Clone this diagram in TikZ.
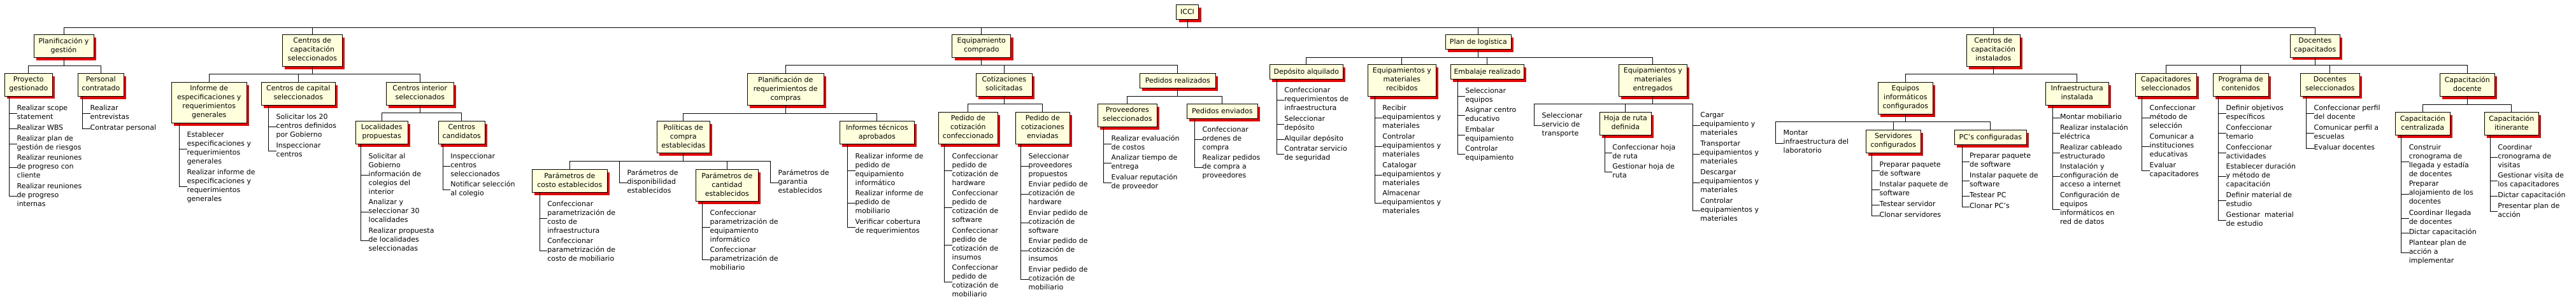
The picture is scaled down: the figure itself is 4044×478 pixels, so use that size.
\documentclass[tikz,border=0pt]{standalone}
\usepackage{fontspec}
\setmainfont{DejaVu Sans}
\usetikzlibrary{shadows}

\definecolor{wbsfill}{RGB}{255,255,221}
\definecolor{wbsred}{RGB}{226,8,8}

% work package list: prefix, top of the list line, items y/text
\newcommand{\wbstasks}[3]{%
  \coordinate (#1-l) at #2;
  \foreach \iy/\itxt [count=\nk] in {#3} {
    \node[task] (#1-\nk) at ([xshift=11.8pt]#1-l |- 0,\iy) {\itxt};
    \draw[link] (#1-l) |- (#1-\nk.west);
  }}

\begin{document}
\begin{tikzpicture}[
  x=1pt, y=-1pt,
  font=\fontsize{11}{14}\selectfont,
  wbsbox/.style={draw, line width=0.9pt, fill=wbsfill, anchor=north, align=center,
    inner xsep=3pt, inner ysep=4.5pt, minimum width=#1,
    general shadow={fill=wbsred, shadow xshift=4pt, shadow yshift=-4.5pt},
    execute at begin node=\strut, execute at end node=\strut},
  wbsbox/.default=80pt,
  task/.style={anchor=west, align=left, inner sep=0pt,
    execute at begin node=\strut, execute at end node=\strut},
  link/.style={line width=0.9pt}
]
\useasboundingbox (0,0) rectangle (4044,478);

\node[wbsbox=35pt] (icci) at (1864,7.3) {ICCI};

% level 1
\node[wbsbox=94pt] (pg) at (100,54.3) {Planificación y\\gestión};
\node[wbsbox=94pt] (csel) at (490.3,54.3) {Centros de\\capacitación\\seleccionados};
\node[wbsbox=92pt] (eqc) at (1540.8,54.3) {Equipamiento\\comprado};
\node[wbsbox=103pt] (plog) at (2320.8,54.3) {Plan de logística};
\node[wbsbox=84pt] (cins) at (3129.3,54.3) {Centros de\\capacitación\\instalados};
\node[wbsbox=78pt] (dcap) at (3634.3,54.3) {Docentes\\capacitados};

\foreach \n in {pg,csel,eqc,plog,cins,dcap}
  \draw[link] (icci.south) -- ++(0,12) -| (\n.north);

% planificacion y gestion
\node[wbsbox=75pt] (proy) at (44.8,115.3) {Proyecto\\gestionado};
\node[wbsbox=72pt] (pers) at (158.3,115.3) {Personal\\contratado};

% centros de capacitacion seleccionados
\node[wbsbox=118pt] (infg) at (328.3,129.3) {Informe de\\especificaciones y\\requerimientos\\generales};
\node[wbsbox=116pt] (ccap) at (468.3,129.3) {Centros de capital\\seleccionados};
\node[wbsbox=106pt] (cint) at (659.3,129.3) {Centros interior\\seleccionados};
\node[wbsbox=82pt] (loc) at (599.2,190.3) {Localidades\\propuestas};
\node[wbsbox=73pt] (ccand) at (724.8,190.3) {Centros\\candidatos};

% equipamiento comprado
\node[wbsbox=120pt] (preq) at (1233.3,115.3) {Planificación de\\requerimientos de\\compras};
\node[wbsbox=88pt] (cot) at (1576.3,115.3) {Cotizaciones\\solicitadas};
\node[wbsbox=119pt] (pedr) at (1848.8,115.3) {Pedidos realizados};
\node[wbsbox=83pt] (pol) at (1072.8,190.3) {Políticas de\\compra\\establecidas};
\node[wbsbox=117pt] (inft) at (1376.8,190.3) {Informes técnicos\\aprobados};
\node[wbsbox=118pt] (pcos) at (894.3,266.3) {Parámetros de\\costo establecidos};
\node[wbsbox=98pt] (pcan) at (1141.3,266.3) {Parámetros de\\cantidad\\establecidos};
\node[task] (pdis) at (984.5,287) {Parámetros de\\disponibilidad\\establecidos};
\node[task] (pgar) at (1221.5,287) {Parámetros de\\garantia\\establecidos};
\node[wbsbox=93pt] (pcc) at (1519.8,176.3) {Pedido de\\cotización\\confeccionado};
\node[wbsbox=85pt] (pce) at (1636.8,176.3) {Pedido de\\cotizaciones\\enviadas};
\node[wbsbox=93pt] (prov) at (1769.8,163.3) {Proveedores\\seleccionados};
\node[wbsbox=111pt] (penv) at (1918.8,163.3) {Pedidos enviados};

% plan de logistica
\node[wbsbox=115pt] (dep) at (2050.8,101.3) {Depósito alquilado};
\node[wbsbox=107pt] (emr) at (2200.8,101.3) {Equipamientos y\\materiales\\recibidos};
\node[wbsbox=115pt] (emb) at (2334.8,101.3) {Embalaje realizado};
\node[wbsbox=107pt] (eme) at (2594.8,101.3) {Equipamientos y\\materiales\\entregados};
\node[task] (sst) at (2420.5,197) {Seleccionar\\servicio de\\transporte};
\node[wbsbox=81pt] (hoja) at (2551.8,176.3) {Hoja de ruta\\definida};

% centros de capacitacion instalados
\node[wbsbox=86pt] (eqi) at (2991.3,129.3) {Equipos\\informáticos\\configurados};
\node[wbsbox=99pt] (infi) at (3260.7,129.3) {Infraestructura\\instalada};
\node[task] (mont) at (2799.5,225) {Montar\\infraestructura del\\laboratorio};
\node[wbsbox=86pt] (serv) at (2972.3,204.3) {Servidores\\configurados};
\node[wbsbox=113pt] (pcs) at (3124.8,204.3) {PC's configuradas};

% docentes capacitados
\node[wbsbox=96pt] (capsel) at (3400.3,115.3) {Capacitadores\\seleccionados};
\node[wbsbox=87pt] (prog) at (3517.7,115.3) {Programa de\\contenidos};
\node[wbsbox=93pt] (dsel) at (3657.8,115.3) {Docentes\\seleccionados};
\node[wbsbox=86pt] (capdoc) at (3873.3,115.3) {Capacitación\\docente};
\node[wbsbox=86pt] (capc) at (3803.3,176.3) {Capacitación\\centralizada};
\node[wbsbox=85pt] (capi) at (3942.8,176.3) {Capacitación\\itinerante};

\foreach \p/\c in {pg/proy, pg/pers, csel/infg, csel/ccap, csel/cint, cint/loc, cint/ccand,
    eqc/preq, eqc/cot, eqc/pedr, preq/pol, preq/inft, pol/pcos, pol/pcan, cot/pcc, cot/pce,
    pedr/prov, pedr/penv, plog/dep, plog/emr, plog/emb, plog/eme, eme/hoja, cins/eqi, cins/infi,
    eqi/serv, eqi/pcs, dcap/capsel, dcap/prog, dcap/dsel, dcap/capdoc, capdoc/capc, capdoc/capi}
  \draw[link] (\p.south) -- ++(0,12) -| (\c.north);

\foreach \p/\c in {pol/pdis, pol/pgar, eme/sst, eqi/mont}
  \draw[link] (\p.south) -- ++(0,12) -| ([xshift=-12pt]\c.west) -- (\c.west);

% activities
\wbstasks{proy}{(proy.south -| 14.7,0)}{178.3/{Realizar scope\\statement}, 202/{Realizar WBS},
  226.3/{Realizar plan de\\gestión de riesgos}, 263.3/{Realizar reuniones\\de progreso con\\cliente},
  308.3/{Realizar reuniones\\de progreso\\internas}}
\wbstasks{pers}{(pers.south -| 129.7,0)}{178.3/{Realizar\\entrevistas}, 202/{Contratar personal}}
\wbstasks{infg}{(infg.south -| 281.7,0)}{234.3/{Establecer\\especificaciones y\\requerimientos\\generales},
  293.3/{Realizar informe de\\especificaciones y\\requerimientos\\generales}}
\wbstasks{ccap}{(ccap.south -| 421.7,0)}{199/{Solicitar los 20\\centros definidos\\por Gobierno},
  237.3/{Inspeccionar\\centros}}
\wbstasks{loc}{(loc.south -| 566.7,0)}{275/{Solicitar al\\Gobierno\\información de\\colegios del\\interior},
  333.5/{Analizar y\\seleccionar 30\\localidades}, 378.5/{Realizar propuesta\\de localidades\\seleccionadas}}
\wbstasks{ccand}{(ccand.south -| 695.3,0)}{261/{Inspeccionar\\centros\\seleccionados},
  298/{Notificar selección\\al colegio}}
\wbstasks{pcos}{(pcos.south -| 847.3,0)}{343/{Confeccionar\\parametrización de\\costo de\\infraestructura},
  394/{Confeccionar\\parametrización de\\costo de mobiliario}}
\wbstasks{pcan}{(pcan.south -| 1102.7,0)}{357/{Confeccionar\\parametrización de\\equipamiento\\informático},
  408/{Confeccionar\\parametrización de\\mobiliario}}
\wbstasks{inft}{(inft.south -| 1330.7,0)}{268/{Realizar informe de\\pedido de\\equipamiento\\informático},
  319/{Realizar informe de\\pedido de\\mobiliario}, 357/{Verificar cobertura\\de requerimientos}}
\wbstasks{pcc}{(pcc.south -| 1482.7,0)}{268/{Confeccionar\\pedido de\\cotización de\\hardware},
  326/{Confeccionar\\pedido de\\cotización de\\software}, 385/{Confeccionar\\pedido de\\cotización de\\insumos},
  443/{Confeccionar\\pedido de\\cotización de\\mobiliario}}
\wbstasks{pce}{(pce.south -| 1602.7,0)}{261/{Seleccionar\\proveedores\\propuestos},
  305/{Enviar pedido de\\cotización de\\hardware}, 350/{Enviar pedido de\\cotización de\\software},
  394/{Enviar pedido de\\cotización de\\insumos}, 439/{Enviar pedido de\\cotización de\\mobiliario}}
\wbstasks{prov}{(prov.south -| 1732.7,0)}{226/{Realizar evaluación\\de costos},
  256.3/{Analizar tiempo de\\entrega}, 287/{Evaluar reputación\\de proveedor}}
\wbstasks{penv}{(penv.south -| 1875.7,0)}{219/{Confeccionar\\ordenes de\\compra},
  263/{Realizar pedidos\\de compra a\\proveedores}}
\wbstasks{dep}{(dep.south -| 2004.3,0)}{157/{Confeccionar\\requerimientos de\\infraestructura},
  195/{Seleccionar\\depósito}, 219/{Alquilar depósito}, 242/{Contratar servicio\\de seguridad}}
\wbstasks{emr}{(emr.south -| 2158.3,0)}{185/{Recibir\\equipamientos y\\materiales},
  230/{Controlar\\equipamientos y\\materiales}, 275/{Catalogar\\equipamientos y\\materiales},
  319/{Almacenar\\equipamientos y\\materiales}}
\wbstasks{emb}{(emb.south -| 2288.3,0)}{151/{Seleccionar\\equipos}, 181.3/{Asignar centro\\educativo},
  212/{Embalar\\equipamiento}, 242/{Controlar\\equipamiento}}
\wbstasks{hoja}{(hoja.south -| 2519.3,0)}{240/{Confeccionar hoja\\de ruta}, 270/{Gestionar hoja de\\ruta}}
\wbstasks{emt}{(2657.3,165.3)}{197/{Cargar\\equipamiento y\\materiales},
  242/{Transportar\\equipamientos y\\materiales}, 287/{Descargar\\equipamientos y\\materiales},
  331/{Controlar\\equipamientos y\\materiales}}
\draw[link] (eme.south) -- ++(0,12) -| (emt-l);
\wbstasks{serv}{(serv.south -| 2938.7,0)}{268/{Preparar paquete\\de software},
  298/{Instalar paquete de\\software}, 322/{Testear servidor}, 339/{Clonar servidores}}
\wbstasks{pcs}{(pcs.south -| 3080,0)}{254/{Preparar paquete\\de software},
  284/{Instalar paquete de\\software}, 308/{Testear PC}, 325/{Clonar PC's}}
\wbstasks{infi}{(infi.south -| 3222,0)}{185/{Montar mobiliario}, 209/{Realizar instalación\\eléctrica},
  240/{Realizar cableado\\estructurado}, 277/{Instalación y\\configuración de\\acceso a internet},
  329/{Configuración de\\equipos\\informáticos en\\red de datos}}
\wbstasks{capsel}{(capsel.south -| 3362.7,0)}{185/{Confeccionar\\método de\\selección},
  230/{Comunicar a\\instituciones\\educativas}, 268/{Evaluar\\capacitadores}}
\wbstasks{prog}{(prog.south -| 3482.7,0)}{178/{Definir objetivos\\específicos}, 209/{Confeccionar\\temario},
  240/{Confeccionar\\actividades}, 277/{Establecer duración\\y método de\\capacitación},
  315/{Definir material de\\estudio}, 346/{Gestionar\ \ material\\de estudio}}
\wbstasks{dsel}{(dsel.south -| 3620.7,0)}{178/{Confeccionar perfil\\del docente},
  209/{Comunicar perfil a\\escuelas}, 233/{Evaluar docentes}}
\wbstasks{capc}{(capc.south -| 3769.7,0)}{254/{Construir\\cronograma de\\llegada y estadía\\de docentes},
  305/{Preparar\\alojamiento de los\\docentes}, 343/{Coordinar llegada\\de docentes},
  366/{Dictar capacitación}, 397/{Plantear plan de\\acción a\\implementar}}
\wbstasks{capi}{(capi.south -| 3909.3,0)}{247/{Coordinar\\cronograma de\\visitas},
  284/{Gestionar visita de\\los capacitadores}, 308/{Dictar capacitación},
  332/{Presentar plan de\\acción}}

\end{tikzpicture}
\end{document}
